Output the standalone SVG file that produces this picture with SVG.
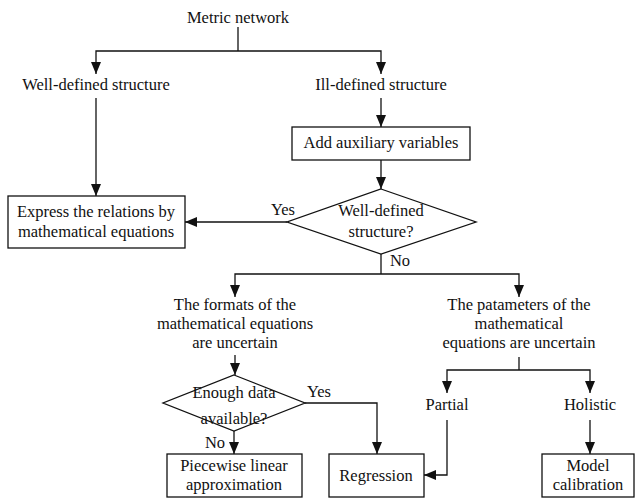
<svg xmlns="http://www.w3.org/2000/svg" width="636" height="500" viewBox="0 0 636 500">
  <style>
    text { font-family: "Liberation Serif", "Times New Roman", serif; font-size: 16.5px; fill: #111; text-anchor: middle; }
    .box { fill: #fff; stroke: #111; stroke-width: 1.3; }
    .edge { fill: none; stroke: #111; stroke-width: 1.3; }
    .arr { marker-end: url(#head); }
  </style>
  <defs>
    <marker id="head" viewBox="0 0 12 10" refX="12" refY="5" markerWidth="12" markerHeight="10" markerUnits="userSpaceOnUse" orient="auto">
      <path d="M0,0 L12,5 L0,10 Z" fill="#111"/>
    </marker>
  </defs>
  <rect width="636" height="500" fill="#fff"/>

  <!-- connectors -->
  <g id="connectors">
    <path class="edge" d="M238,27 V51"/>
    <path class="edge arr" d="M238,51 H96 V74"/>
    <path class="edge arr" d="M238,51 H381 V74"/>
    <path class="edge arr" d="M96,98 V196"/>
    <path class="edge arr" d="M381,98 V127"/>
    <path class="edge arr" d="M381,160 V189"/>
    <path class="edge arr" d="M287,222 H185"/>
    <path class="edge" d="M381,254 V274"/>
    <path class="edge arr" d="M381,274 H235 V297"/>
    <path class="edge arr" d="M381,274 H519 V297"/>
    <path class="edge arr" d="M235,355 V375"/>
    <path class="edge arr" d="M234,431 V454"/>
    <path class="edge arr" d="M305,403 H377 V454"/>
    <path class="edge" d="M519,357 V370"/>
    <path class="edge arr" d="M519,370 H447 V393"/>
    <path class="edge arr" d="M519,370 H590 V393"/>
    <path class="edge arr" d="M447,420 V475 H424"/>
    <path class="edge arr" d="M590,420 V454"/>
    <text x="283" y="215">Yes</text>
    <text x="400" y="266">No</text>
    <text x="319" y="397">Yes</text>
    <text x="215" y="448">No</text>
  </g>

  <g id="metric-network">
    <text x="238" y="23">Metric network</text>
  </g>

  <g id="well-defined">
    <text x="96" y="90">Well-defined structure</text>
  </g>

  <g id="ill-defined">
    <text x="381" y="90">Ill-defined structure</text>
  </g>

  <g id="add-auxiliary">
    <rect class="box" x="292" y="127" width="178" height="33"/>
    <text x="381" y="148">Add auxiliary variables</text>
  </g>

  <g id="express-relations">
    <rect class="box" x="8" y="196" width="177" height="52"/>
    <text x="96" y="217">Express the relations by</text>
    <text x="96" y="237">mathematical equations</text>
  </g>

  <g id="check-structure">
    <polygon class="box" points="381,189 476,222 381,254 287,222"/>
    <text x="381" y="216">Well-defined</text>
    <text x="381" y="237">structure?</text>
  </g>

  <g id="formats-uncertain">
    <text x="235" y="310">The formats of the</text>
    <text x="235" y="329">mathematical equations</text>
    <text x="235" y="348">are uncertain</text>
  </g>

  <g id="parameters-uncertain">
    <text x="519" y="310">The patameters of the</text>
    <text x="519" y="329">mathematical</text>
    <text x="519" y="348">equations are uncertain</text>
  </g>

  <g id="enough-data">
    <polygon class="box" points="234,375 305,403 234,431 163,403"/>
    <text x="234" y="398">Enough data</text>
    <text x="234" y="424">available?</text>
  </g>

  <g id="piecewise">
    <rect class="box" x="167" y="454" width="135" height="43"/>
    <text x="234" y="471">Piecewise linear</text>
    <text x="234" y="490">approximation</text>
  </g>

  <g id="regression">
    <rect class="box" x="329" y="454" width="95" height="43"/>
    <text x="376" y="481">Regression</text>
  </g>

  <g id="partial">
    <text x="447" y="410">Partial</text>
  </g>

  <g id="holistic">
    <text x="590" y="410">Holistic</text>
  </g>

  <g id="model-calibration">
    <rect class="box" x="542" y="454" width="92" height="43"/>
    <text x="588" y="471">Model</text>
    <text x="588" y="490">calibration</text>
  </g>
</svg>
